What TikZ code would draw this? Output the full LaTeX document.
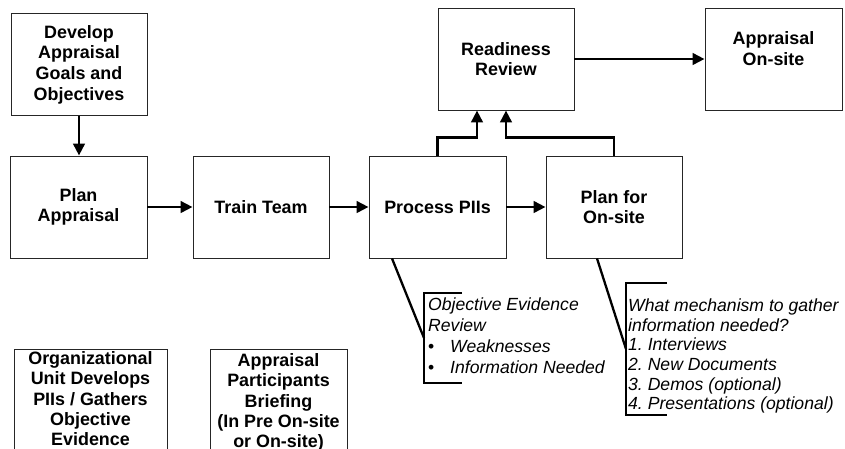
\documentclass[tikz,border=0pt]{standalone}
\usepackage{fontspec}
\setmainfont{Liberation Sans}
\usetikzlibrary{arrows.meta}
\frenchspacing
\begin{document}
\begin{tikzpicture}[x=1pt,y=-1pt,
  box/.style={draw=black!85, line width=0.9pt, fill=white, minimum width=136pt,
    minimum height=102pt, inner sep=0pt, align=center,
    font=\fontsize{17.9}{20.7}\selectfont\bfseries},
  plainbox/.style={draw=black!85, line width=0.9pt, fill=white, inner sep=0pt},
  boxtext/.style={inner sep=0pt, align=center, anchor=north,
    font=\fontsize{17.9}{20.2}\selectfont\bfseries},
  flow/.style={line width=2.8pt, -{Triangle[length=12pt,width=11.5pt]}},
  callout/.style={line width=2.3pt},
  note/.style={inner sep=0pt, anchor=north west, align=left,
    font=\fontsize{17.6}{21}\selectfont\itshape},
]
\useasboundingbox (0,0) rectangle (845,448);
\clip (0,0) rectangle (845,448);

% main boxes
\node[box] (dev)   at (79,64.5)  {Develop\\Appraisal\\Goals and\\Objectives};
\node[box, minimum width=137pt] (plan)  at (78.5,207) {Plan\\Appraisal};
\node[box] (train) at (261,207)  {Train Team};
\node[box, minimum width=137pt] (proc)  at (437.5,207) {Process PIIs};
\node[box] (pfo)   at (614,207)  {Plan for\\On-site};
\node[box] (ready) at (506,59)   {Readiness\\Review};
\node[box, minimum width=137pt] (aos)   at (773.5,59) {Appraisal\\On-site\\~};

% bottom boxes (cut by the lower edge)
\node[plainbox, minimum width=153pt, minimum height=120pt, anchor=north] (orgbox) at (90.5,349) {};
\node[boxtext] (org) at (90.5,351.5) {Organizational\\Unit Develops\\PIIs / Gathers\\Objective\\Evidence};
\node[plainbox, minimum width=137pt, minimum height=120pt, anchor=north] (partbox) at (278.5,349) {};
\node[boxtext] (part) at (278.5,353.5) {Appraisal\\Participants\\Briefing\\(In Pre On-site\\or On-site)};

% flow arrows
\draw[flow] (dev.south) -- (dev.south |- plan.north);
\draw[flow] (plan.east) -- (train.west);
\draw[flow] (train.east) -- (proc.west);
\draw[flow] (proc.east) -- (pfo.west);
\draw[flow] (ready.east) -- (aos.west);
\draw[flow] (proc.north) -- ++(0,-18) -| ([xshift=-29pt]ready.south);
\draw[flow] (pfo.north) -- ++(0,-18) -| (ready.south);

% callout 1
\coordinate (b1t) at (462,293);
\coordinate (b1m) at (424,338);
\coordinate (b1b) at (462,383);
\draw[callout] ([xshift=-45.5pt]proc.south) -- (b1m);
\draw[callout] (b1t) -- (b1t -| b1m) -- (b1b -| b1m) -- (b1b);
\node[note] (n1) at (428,297.5) {Objective Evidence\\Review\\
  \makebox[22pt][l]{\upshape\textbullet}Weaknesses\\
  \makebox[22pt][l]{\upshape\textbullet}Information Needed};

% callout 2
\coordinate (b2t) at (667,283);
\coordinate (b2m) at (626,349);
\coordinate (b2b) at (667,415);
\draw[callout] ([xshift=-17pt]pfo.south) -- (b2m);
\draw[callout] (b2t) -- (b2t -| b2m) -- (b2b -| b2m) -- (b2b);
\node[note, font=\fontsize{17.6}{19.7}\selectfont\itshape] (n2) at (628,298.5)
  {What mechanism to gather\\information needed?\\
  1. Interviews\\2. New Documents\\3. Demos (optional)\\4. Presentations (optional)};
\end{tikzpicture}
\end{document}
